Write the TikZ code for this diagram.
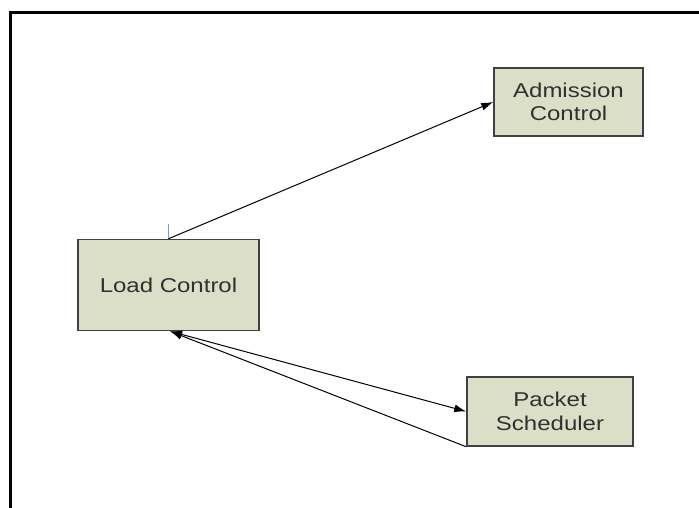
\documentclass[tikz,border=0pt]{standalone}
\usepackage{fontspec}
\newfontfamily\boxfont[FakeStretch=1.2]{Liberation Sans}
\usetikzlibrary{arrows.meta}
\definecolor{boxfill}{RGB}{220,223,200}
\definecolor{boxline}{RGB}{64,64,64}
\definecolor{boxtext}{RGB}{48,48,48}
\definecolor{tickblue}{RGB}{120,160,215}

\tikzset{
  block/.style={
    rectangle,
    draw=boxline,
    line width=1.5pt,
    fill=boxfill,
    text=boxtext,
    align=center,
    inner sep=0pt,
    font=\boxfont\fontsize{20}{23.5}\selectfont
  },
  link/.style={line width=1pt, -{Latex[length=12pt,width=8pt]}}
}

\begin{document}
\begin{tikzpicture}[x=1pt,y=-1pt]
  \useasboundingbox (0,0) rectangle (699,508);
  \draw[line width=3pt] (10,508) -- (10,13) -- (699,13);

  \node[block, minimum width=181pt, minimum height=91pt] (load) at (168.5,285) {Load Control};
  \node[block, minimum width=149pt, minimum height=68pt] (admission) at (568.5,102) {Admission\\Control};
  \node[block, minimum width=166pt, minimum height=69pt] (scheduler) at (550,411.5) {Packet\\Scheduler};

  \coordinate (tick) at ([yshift=15pt]load.north);
  \draw[tickblue, line width=1.2pt] (tick) -- (load.north);

  \draw[link] (load.north) -- (admission.west);
  \draw[link, {Latex[length=12pt,width=8pt]}-{Latex[length=12pt,width=8pt]}] ([xshift=1.5pt]load.south) -- (scheduler.west);
  \draw[link] (scheduler.south west) -- ([xshift=1.5pt]load.south);
\end{tikzpicture}
\end{document}
